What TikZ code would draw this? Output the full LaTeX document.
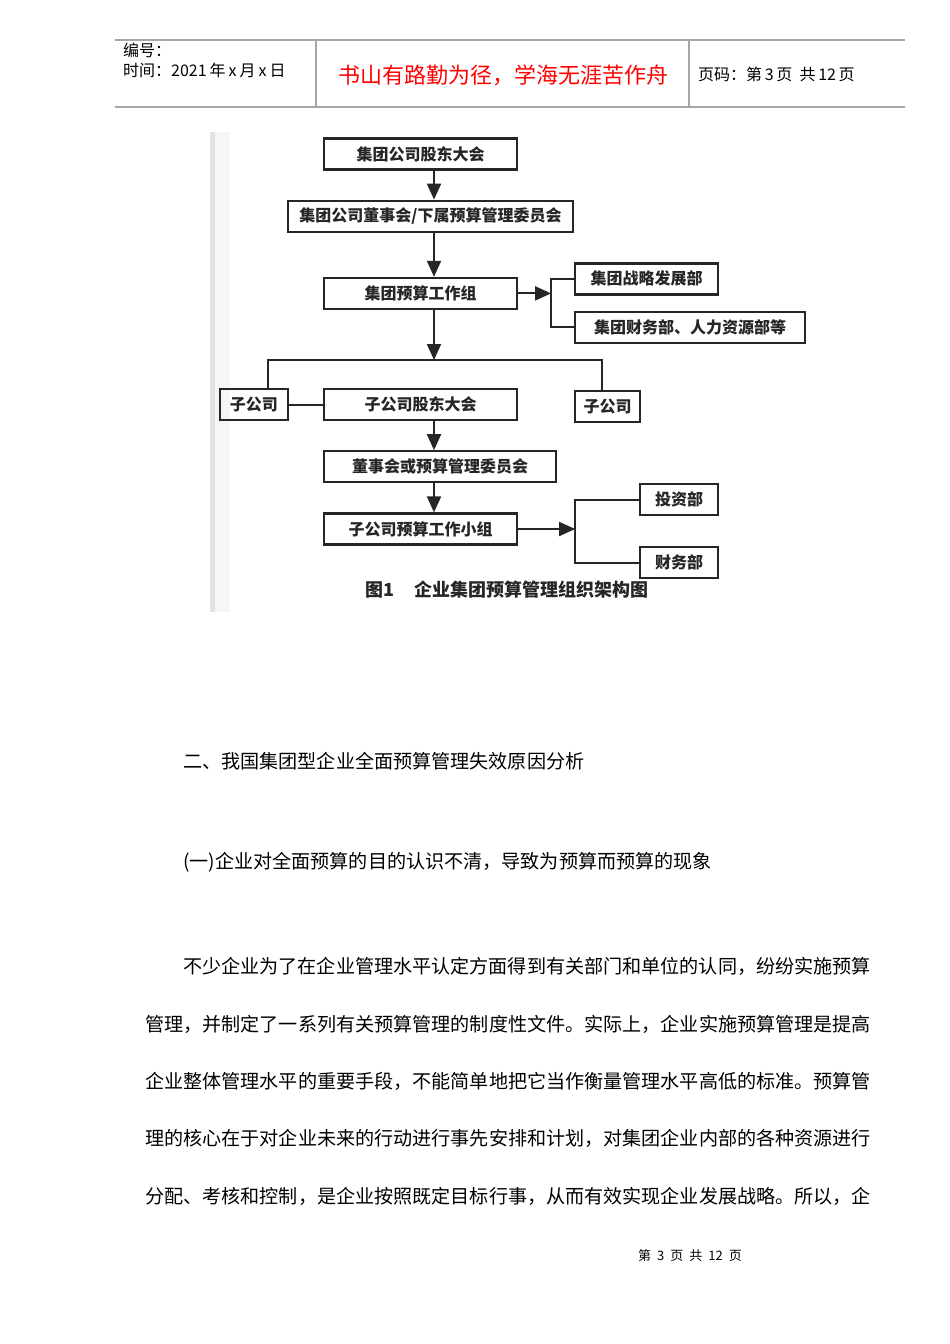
\documentclass[tikz,border=0pt]{standalone}
\usepackage{fontspec}
\setmainfont{Noto Sans CJK SC}
\usetikzlibrary{arrows.meta,positioning}

\begin{document}
\begin{tikzpicture}[
  x=1pt, y=-1pt,
  box/.style={draw=black!85, line width=2.2pt, minimum height=31pt, inner sep=0pt, text=black!85, font=\fontsize{16}{16}\selectfont\bfseries},
  arr/.style={-{Triangle[length=16pt,width=14pt]}, line width=2pt, draw=black!85},
  link/.style={line width=2pt, draw=black!85},
  rule/.style={line width=1.4pt, draw=gray!70},
  head/.style={anchor=west, inner sep=0pt, font=\fontsize{16}{16}\selectfont},
  body/.style={anchor=west, inner sep=0pt, font=\fontsize{19.1}{19.1}\selectfont}
]
\path[use as bounding box, fill=white] (0,0) rectangle (950,1344);

% page header
\draw[rule] (115,40) -- (905,40);
\draw[rule] (115,107) -- (905,107);
\draw[rule] (316,40) -- (316,107);
\draw[rule] (689,40) -- (689,107);
\node[head] (num) at (123,50) {编号：};
\node[head] (date) at (123,70) {时间：2021\hspace{3pt}年\hspace{3pt}x\hspace{3pt}月\hspace{3pt}x\hspace{3pt}日};
\node[inner sep=0pt, text=red, font=\fontsize{22}{22}\selectfont] (motto) at (503,75) {书山有路勤为径，学海无涯苦作舟};
\node[head] (page) at (698,74) {页码：第\,3\,页\ \ 共\,12\,页};

% edge of the scanned figure
\fill[gray!22] (210,132) rectangle (215,612);
\fill[gray!7] (215,132) rectangle (230,612);

% group level
\node[box, minimum width=193pt] (gsh) at (420.5,154) {集团公司股东大会};
\node[box, minimum width=285pt, below=29pt of gsh, xshift=10pt] (gbd) {集团公司董事会/下属预算管理委员会};
\node[box, minimum width=193pt, below=44pt of gbd, xshift=-10pt] (gwg) {集团预算工作组};
\node[box, minimum width=143pt, right=56pt of gwg, yshift=14.5pt] (strat) {集团战略发展部};
\node[box, minimum width=230pt, below=15pt of strat.south west, anchor=north west] (fin) {集团财务部、人力资源部等};

% subsidiary level
\node[box, minimum width=193pt, below=78pt of gwg] (ssh) {子公司股东大会};
\node[box, minimum width=68pt, left=34pt of ssh] (subL) {子公司};
\node[box, minimum width=65pt, right=56pt of ssh, yshift=-2pt] (subR) {子公司};
\node[box, minimum width=232pt, below=29pt of ssh.south west, anchor=north west] (sbd) {董事会或预算管理委员会};
\node[box, minimum width=193pt, below=29pt of sbd.south west, anchor=north west] (swg) {子公司预算工作小组};
\node[box, minimum width=78pt, right=121pt of swg, yshift=29.5pt] (inv) {投资部};
\node[box, minimum width=78pt, below=30pt of inv] (acc) {财务部};

\node[inner sep=0pt, text=black!85, font=\fontsize{18}{18}\selectfont\bfseries] (cap) at (507,590) {图1\hspace{20pt}企业集团预算管理组织架构图};

% connectors
\coordinate (spine) at (434,0);
\coordinate (busL) at (268,360);
\coordinate (busR) at (602,360);
\coordinate[right=33pt of gwg.east] (forkA);
\coordinate[right=57pt of swg.east] (forkB);

\draw[arr] (gsh.south -| spine) -- (gbd.north -| spine);
\draw[arr] (gbd.south -| spine) -- (gwg.north -| spine);
\draw[arr] (gwg.south -| spine) -- (busL -| spine);
\draw[link] (subL.north -| busL) -- (busL) -- (busR) -- (subR.north -| busR);
\draw[link] (subL) -- (ssh);
\draw[arr] (ssh.south -| spine) -- (sbd.north -| spine);
\draw[arr] (sbd.south -| spine) -- (swg.north -| spine);
\draw[arr] (gwg) -- (forkA);
\draw[link] (strat.west) -| (forkA) |- (fin.west);
\draw[arr] (swg) -- (forkB);
\draw[link] (inv.west) -| (forkB) |- (acc.west);

% text of the page
\node[body] (sec) at (183,761) {二、我国集团型企业全面预算管理失效原因分析};
\node[body] (sub) at (183,862) {(一)企业对全面预算的目的认识不清，导致为预算而预算的现象};
\node[body] (p1) at (183,966) {不少企业为了在企业管理水平认定方面得到有关部门和单位的认同，纷纷实施预算};
\node[body] (p2) at (145,1024) {管理，并制定了一系列有关预算管理的制度性文件。实际上，企业实施预算管理是提高};
\node[body] (p3) at (145,1081) {企业整体管理水平的重要手段，不能简单地把它当作衡量管理水平高低的标准。预算管};
\node[body] (p4) at (145,1138) {理的核心在于对企业未来的行动进行事先安排和计划，对集团企业内部的各种资源进行};
\node[body] (p5) at (145,1196) {分配、考核和控制，是企业按照既定目标行事，从而有效实现企业发展战略。所以，企};
\node[inner sep=0pt, font=\fontsize{13}{13}\selectfont] (foot) at (690,1256) {第\hspace{6pt}3\hspace{6pt}页\hspace{6pt}共\hspace{6pt}12\hspace{6pt}页};
\end{tikzpicture}
\end{document}
